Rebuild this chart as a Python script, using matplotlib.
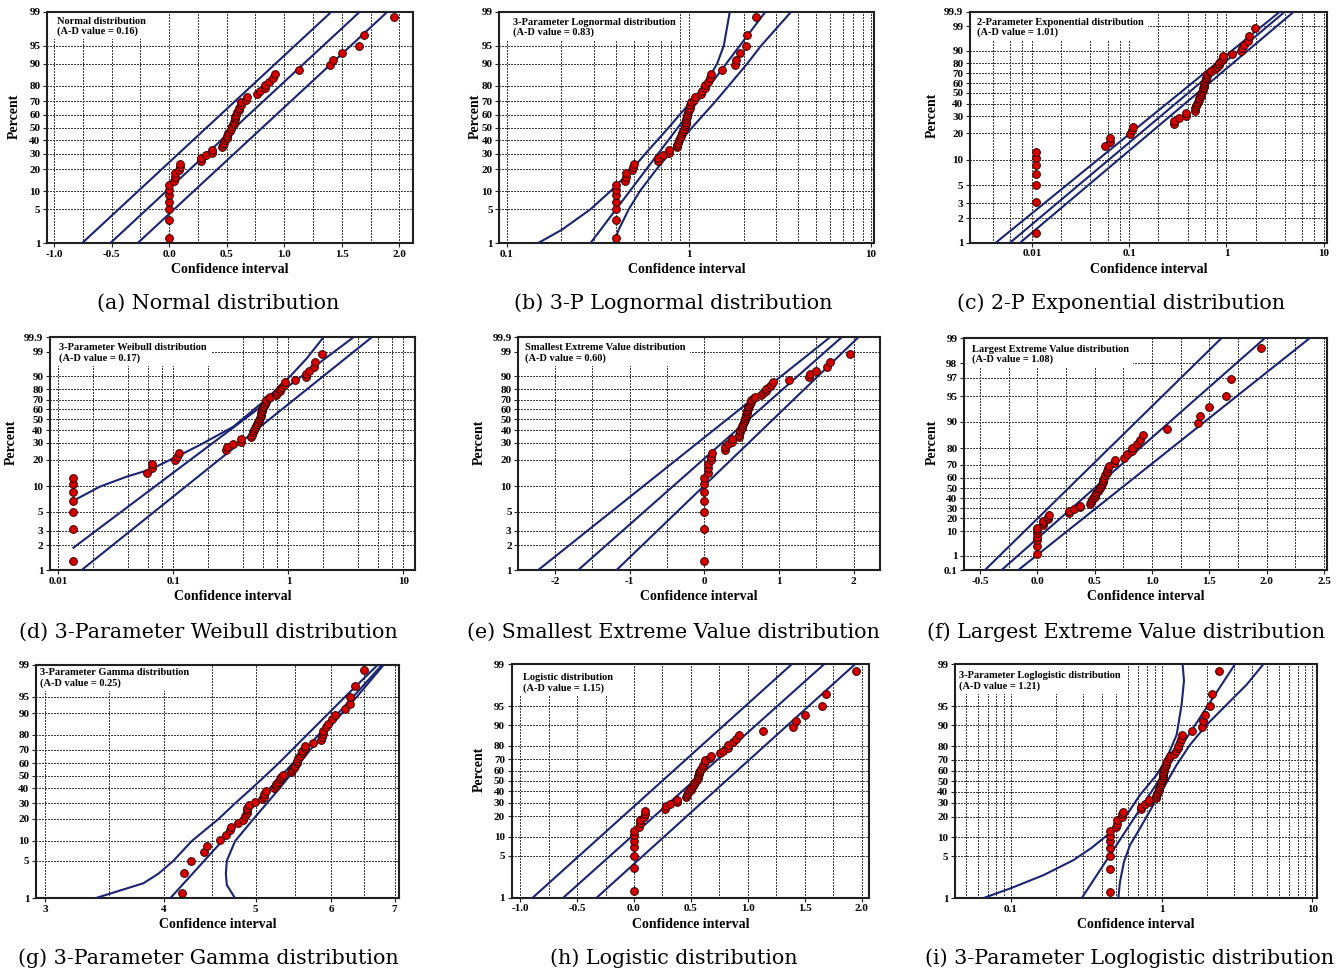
import math
import numpy as np
import matplotlib
matplotlib.use("Agg")
import matplotlib.pyplot as plt
from matplotlib.ticker import FixedLocator, NullLocator, NullFormatter
from matplotlib.patches import Rectangle

plt.rcParams['font.family'] = ['Liberation Serif', 'DejaVu Serif']
plt.rcParams['font.weight'] = 'bold'

# ---------------------------------------------------------------- data
# plotting positions (percent) of the 54 ordered observations
PCT = [1.3, 3.1, 5.0, 6.8, 8.6, 10.5, 12.3, 14.2, 16.0, 17.8, 19.7, 21.5, 23.3,
       25.2, 27.0, 28.9, 30.7, 32.5, 34.4, 36.2, 38.1, 39.9, 41.7, 43.6, 45.4,
       47.2, 49.1, 50.9, 52.8, 54.6, 56.4, 58.3, 60.1, 61.9, 63.8, 65.6, 67.5,
       69.3, 71.1, 73.0, 74.8, 76.7, 78.5, 80.3, 82.2, 84.0, 85.8, 87.7, 89.5,
       91.4, 93.2, 95.0, 96.9, 98.7]
# ordered observations (confidence interval values)
BASE_X = [0, 0, 0, 0, 0, 0, 0, 0.046, 0.052, 0.052, 0.09, 0.095, 0.098,
          0.275, 0.277, 0.318, 0.376, 0.376, 0.46, 0.465, 0.477, 0.485, 0.50,
          0.505, 0.515, 0.53, 0.54, 0.55, 0.56, 0.565, 0.57, 0.573, 0.58, 0.59,
          0.605, 0.61, 0.62, 0.625, 0.67, 0.675, 0.76, 0.785, 0.83, 0.83, 0.87,
          0.90, 0.92, 1.13, 1.40, 1.42, 1.50, 1.65, 1.69, 1.95]
# x values shown in the 3-parameter gamma plot
GAMMA_X = [4.18, 4.20, 4.27, 4.41, 4.44, 4.59, 4.65, 4.70, 4.71, 4.79, 4.85,
           4.87, 4.89, 4.89, 4.89, 4.92, 4.99, 5.07, 5.10, 5.10, 5.12, 5.23,
           5.25, 5.25, 5.28, 5.30, 5.32, 5.34, 5.44, 5.46, 5.48, 5.50, 5.52,
           5.52, 5.54, 5.57, 5.59, 5.59, 5.63, 5.63, 5.74, 5.85, 5.87, 5.88,
           5.89, 5.93, 5.96, 6.01, 6.06, 6.20, 6.29, 6.29, 6.36, 6.50]
# threshold shifts of the 3-parameter / 2-parameter fits
LOGNORM_SHIFT = 0.40
EXPO_SHIFT = 0.011
WEIB_SHIFT = 0.0133
LOGLOG_SHIFT = 0.454

DIST_NAMES = ["Normal distribution", "3-Parameter Lognormal distribution",
              "2-Parameter Exponential distribution",
              "3-Parameter Weibull distribution",
              "Smallest Extreme Value distribution",
              "Largest Extreme Value distribution",
              "3-Parameter Gamma distribution", "Logistic distribution",
              "3-Parameter Loglogistic distribution"]
AD_VALUES = [0.16, 0.83, 1.01, 0.17, 0.60, 1.08, 0.25, 1.15, 1.21]
CAPTIONS = ["(a) Normal distribution", "(b) 3-P Lognormal distribution",
            "(c) 2-P Exponential distribution",
            "(d) 3-Parameter Weibull distribution",
            "(e) Smallest Extreme Value distribution",
            "(f) Largest Extreme Value distribution",
            "(g) 3-Parameter Gamma distribution", "(h) Logistic distribution",
            "(i) 3-Parameter Loglogistic distribution"]

# fitted lines and confidence bands: (percent, x) pairs
NORM_P = [1, 99]
NORM_FIT = [-0.512, 1.656]
NORM_UP = [-0.757, 1.410]
NORM_LO = [-0.275, 1.896]

LOGN_FIT_P = [1, 99]
LOGN_FIT = [0.288, 2.638]
LOGN_BAND_P = [1, 2, 5, 10, 20, 30, 50, 70, 80, 90, 95, 99]
LOGN_UP = [0.148, 0.201, 0.288, 0.371, 0.488, 0.578, 0.776, 1.030, 1.219,
           1.431, 1.557, 1.680]
LOGN_LO = [0.387, 0.412, 0.468, 0.538, 0.664, 0.783, 1.043, 1.401, 1.659,
           2.092, 2.497, 3.650]

EXPO_P = [1, 99.9]
EXPO_FIT = [0.00599, 3.98]
EXPO_UP = [0.00427, 3.53]
EXPO_LO = [0.00759, 4.92]

WEIB_FIT_P = [1.83, 99.9]
WEIB_FIT = [0.01332, 3.674]
WEIB_UP_P = [6.62, 9.91, 12.9, 15.6, 22.4, 28.6, 43.0, 67.9, 87.6, 97.8, 99.9]
WEIB_UP = [0.01306, 0.0230, 0.0393, 0.0635, 0.1143, 0.1706, 0.3325, 0.6063,
           0.967, 1.444, 2.016]
WEIB_LO_P = [1, 99.9]
WEIB_LO = [0.01596, 5.30]

SEV_P = [1, 99.9]
SEV_FIT = [-1.688, 1.839]
SEV_UP = [-2.223, 1.683]
SEV_LO = [-1.174, 2.063]

LEV_P = [0.1, 99]
LEV_FIT = [-0.311, 1.983]
LEV_UP = [-0.456, 1.605]
LEV_LO = [-0.165, 2.374]

GAM_FIT_P = [1, 99]
GAM_FIT = [4.063, 6.788]
GAM_UP_P = [1, 2, 3, 5, 10, 20, 30, 40, 50, 60, 70, 80, 90, 95, 99]
GAM_UP = [3.387, 3.808, 3.949, 4.096, 4.282, 4.568, 4.756, 4.952, 5.115,
          5.283, 5.457, 5.659, 5.964, 6.210, 6.717]
GAM_LO_P = [1, 1.85, 3, 5, 10, 20, 30, 40, 50, 60, 70, 80, 90, 95, 99]
GAM_LO = [4.756, 4.661, 4.650, 4.661, 4.756, 4.972, 5.136, 5.296, 5.426,
          5.559, 5.705, 5.883, 6.160, 6.389, 6.815]

LOGI_P = [1, 99]
LOGI_FIT = [-0.621, 1.669]
LOGI_UP = [-0.890, 1.385]
LOGI_LO = [-0.328, 1.941]

LLOG_FIT_P = [1, 99]
LLOG_FIT = [0.2943, 3.067]
LLOG_UP_P = [1, 1.46, 2.44, 4.32, 6.83, 12.8, 21.0, 36.9, 56.2, 71.2, 86.1,
             95.3, 98.1, 99]
LLOG_UP = [0.0649, 0.0985, 0.1639, 0.2593, 0.3430, 0.4777, 0.5858, 0.7182,
           0.9264, 1.079, 1.258, 1.357, 1.407, 1.379]
LLOG_LO_P = [1, 1.89, 4.05, 7.53, 13.6, 28.3, 43.2, 65.6, 80.7, 90.2, 95.3,
             97.8, 99]
LLOG_LO = [0.5157, 0.5292, 0.5623, 0.6164, 0.7182, 0.8805, 1.026, 1.258,
           1.542, 1.990, 2.701, 3.666, 4.730]

# y tick sets
TICKS_STD = [1, 5, 10, 20, 30, 40, 50, 60, 70, 80, 90, 95, 99]
TICKS_SEV = [1, 2, 3, 5, 10, 20, 30, 40, 50, 60, 70, 80, 90, 99, 99.9]
TICKS_LEV = [0.1, 1, 10, 20, 30, 40, 50, 60, 70, 80, 90, 95, 97, 98, 99]
# gamma probability scale: relative heights of the percent ticks
GAMMA_SCALE_POS = [0, 113, 172, 238, 285, 330, 367, 405, 445, 490, 555, 605, 700]

# ---------------------------------------------------------------- scales
_A = [-3.969683028665376e+01, 2.209460984245205e+02, -2.759285104469687e+02,
      1.383577518672690e+02, -3.066479806614716e+01, 2.506628277459239e+00]
_B = [-5.447609879822406e+01, 1.615858368580409e+02, -1.556989798598866e+02,
      6.680131188771972e+01, -1.328068155288572e+01]
_C = [-7.784894002430293e-03, -3.223964580411365e-01, -2.400758277161838e+00,
      -2.549732539343734e+00, 4.374664141464968e+00, 2.938163982698783e+00]
_D = [7.784695709041462e-03, 3.224671290700398e-01, 2.445134137142996e+00,
      3.754408661907416e+00]


def _q(p):
    return np.clip(np.asarray(p, dtype=float) / 100.0, 1e-12, 1 - 1e-12)


def norm_ppf(q):
    q = np.clip(np.asarray(q, dtype=float), 1e-12, 1 - 1e-12)
    out = np.zeros_like(q)
    plow = 0.02425
    lo = q < plow
    hi = q > 1 - plow
    mid = ~(lo | hi)
    if np.any(lo):
        r = np.sqrt(-2 * np.log(q[lo]))
        out[lo] = (((((_C[0]*r+_C[1])*r+_C[2])*r+_C[3])*r+_C[4])*r+_C[5]) / \
                  ((((_D[0]*r+_D[1])*r+_D[2])*r+_D[3])*r+1)
    if np.any(hi):
        r = np.sqrt(-2 * np.log(1 - q[hi]))
        out[hi] = -(((((_C[0]*r+_C[1])*r+_C[2])*r+_C[3])*r+_C[4])*r+_C[5]) / \
                   ((((_D[0]*r+_D[1])*r+_D[2])*r+_D[3])*r+1)
    if np.any(mid):
        s = q[mid] - 0.5
        r = s * s
        out[mid] = (((((_A[0]*r+_A[1])*r+_A[2])*r+_A[3])*r+_A[4])*r+_A[5])*s / \
                   (((((_B[0]*r+_B[1])*r+_B[2])*r+_B[3])*r+_B[4])*r+1)
    return out


_erf = np.vectorize(math.erf, otypes=[float])


def norm_cdf(z):
    return 0.5 * (1 + _erf(np.asarray(z, dtype=float) / math.sqrt(2)))


def probit_f(p):
    return norm_ppf(_q(p))


def probit_i(z):
    return 100 * norm_cdf(z)


def sev_f(p):
    q = _q(p)
    return np.log(-np.log1p(-q))


def sev_i(w):
    with np.errstate(over='ignore'):
        return 100 * (1 - np.exp(-np.exp(np.asarray(w, dtype=float))))


def lev_f(p):
    q = _q(p)
    return -np.log(-np.log(q))


def lev_i(v):
    with np.errstate(over='ignore'):
        return 100 * np.exp(-np.exp(-np.asarray(v, dtype=float)))


def logit_f(p):
    q = _q(p)
    return np.log(q / (1 - q))


def logit_i(v):
    with np.errstate(over='ignore'):
        return 100 / (1 + np.exp(-np.asarray(v, dtype=float)))


_GZ = probit_f(np.array(TICKS_STD, dtype=float))
_GP = np.array(GAMMA_SCALE_POS, dtype=float)


def _interp_ext(x, xp, fp):
    x = np.asarray(x, dtype=float)
    y = np.interp(x, xp, fp)
    s0 = (fp[1] - fp[0]) / (xp[1] - xp[0])
    s1 = (fp[-1] - fp[-2]) / (xp[-1] - xp[-2])
    y = np.where(x < xp[0], fp[0] + (x - xp[0]) * s0, y)
    y = np.where(x > xp[-1], fp[-1] + (x - xp[-1]) * s1, y)
    return y


def gamma_f(p):
    return _interp_ext(probit_f(p), _GZ, _GP)


def gamma_i(v):
    return probit_i(_interp_ext(v, _GP, _GZ))


# ---------------------------------------------------------------- figure
W, H = 1342, 975
fig = plt.figure(figsize=(W / 100, H / 100), dpi=100)

NAVY = '#1b2470'
RED = '#d40000'
GRID_KW = dict(color='#3c3c3c', linestyle=(0, (2, 2)), linewidth=0.72,
               antialiased=False)


def make_axes(l, t, r, b):
    return fig.add_axes([l / W, 1 - b / H, (r - l) / W, (b - t) / H])


def decorate(ax, yfun, yticks, ylim, xlog, xlim, xticks, xlabels, xminor,
             ylab_x, name, ad, text_off):
    ax.set_yscale('function', functions=yfun)
    ax.set_ylim(*ylim)
    ax.yaxis.set_major_locator(FixedLocator(yticks))
    ax.set_yticklabels([f"{v:g}" for v in yticks])
    ax.yaxis.set_minor_locator(NullLocator())
    if xlog:
        ax.set_xscale('log')
    ax.set_xlim(*xlim)
    ax.set_xticks(xticks)
    ax.set_xticklabels(xlabels)
    ax.xaxis.set_minor_locator(FixedLocator(xminor))
    ax.xaxis.set_minor_formatter(NullFormatter())
    ax.set_axisbelow(True)
    ax.grid(True, which='major', axis='both', **GRID_KW)
    ax.grid(True, which='minor', axis='x', **GRID_KW)
    ax.tick_params(which='major', labelsize=8, length=3, width=0.8,
                   direction='out', pad=1.8, color='#222222')
    ax.tick_params(which='minor', length=0)
    for sp in ax.spines.values():
        sp.set_linewidth(1.5)
        sp.set_color('#202020')
    bbox = ax.get_position()
    hpx = bbox.height * H
    wpx = bbox.width * W
    ax.set_xlabel('Confidence interval', fontsize=10, fontweight='bold',
                  va='center')
    ax.xaxis.set_label_coords(0.5, -26.5 / hpx)
    if ylab_x is not None:
        ax.set_ylabel('Percent', fontsize=10, fontweight='bold', va='center')
        ax.yaxis.set_label_coords(ylab_x / wpx, 0.55)
    txt = ax.text(text_off[0] / wpx, 1 - text_off[1] / hpx,
                  f"{name}\n(A-D value = {ad:.2f})", transform=ax.transAxes,
                  ha='left', va='top', fontsize=7.5, fontweight='bold',
                  linespacing=1.15, zorder=5)
    return txt


def pts(ax, x, p):
    ax.plot(x, p, 'o', ms=5.6, mfc=RED, mec='#3c0000', mew=0.7, zorder=4)


def line(ax, x, p):
    ax.plot(x, p, color=NAVY, lw=1.5, zorder=3, solid_capstyle='butt')


def log_minor(decades, mults):
    return [m * 10.0 ** e for e in decades for m in mults]


base = np.array(BASE_X)
texts = []

# (a) normal
ax = make_axes(47, 11.7, 413.3, 243.3)
t = decorate(ax, (probit_f, probit_i), TICKS_STD, (1, 99), False,
             (-1.06, 2.12), [-1, -0.5, 0, 0.5, 1, 1.5, 2],
             ['-1.0', '-0.5', '0.0', '0.5', '1.0', '1.5', '2.0'],
             list(np.arange(-1.0, 2.01, 0.25)), -33, DIST_NAMES[0],
             AD_VALUES[0], (10, 5))
for xs in (NORM_FIT, NORM_UP, NORM_LO):
    line(ax, xs, NORM_P)
pts(ax, base, PCT)
texts.append((ax, t))

# (b) 3-parameter lognormal
ax = make_axes(499.3, 11.7, 874, 243.3)
t = decorate(ax, (probit_f, probit_i), TICKS_STD, (1, 99), True,
             (0.0911, 10.4), [0.1, 1, 10], ['0.1', '1', '10'],
             log_minor([-1, 0], range(2, 10)), -24, DIST_NAMES[1],
             AD_VALUES[1], (14, 6))
line(ax, LOGN_FIT, LOGN_FIT_P)
line(ax, LOGN_UP, LOGN_BAND_P)
line(ax, LOGN_LO, LOGN_BAND_P)
pts(ax, base + LOGNORM_SHIFT, PCT)
texts.append((ax, t))

# (c) 2-parameter exponential
ax = make_axes(970, 11.7, 1326.7, 242.7)
t = decorate(ax, (sev_f, sev_i), TICKS_SEV, (1, 99.9), True,
             (0.00232, 10.7), [0.01, 0.1, 1, 10], ['0.01', '0.1', '1', '10'],
             [0.004, 0.006, 0.008] + log_minor([-2, -1, 0], (2, 4, 6, 8)),
             -38, DIST_NAMES[2], AD_VALUES[2], (7.3, 6))
for xs in (EXPO_FIT, EXPO_UP, EXPO_LO):
    line(ax, xs, EXPO_P)
pts(ax, base + EXPO_SHIFT, PCT)
texts.append((ax, t))

# (d) 3-parameter Weibull
ax = make_axes(50, 337.3, 415, 570)
t = decorate(ax, (sev_f, sev_i), TICKS_SEV, (1, 99.9), True,
             (0.00847, 12.6), [0.01, 0.1, 1, 10], ['0.01', '0.1', '1', '10'],
             log_minor([-2, -1, 0], (2, 4, 6, 8)), -39, DIST_NAMES[3],
             AD_VALUES[3], (9.3, 5.5))
line(ax, WEIB_FIT, WEIB_FIT_P)
line(ax, WEIB_UP, WEIB_UP_P)
line(ax, WEIB_LO, WEIB_LO_P)
pts(ax, base + WEIB_SHIFT, PCT)
texts.append((ax, t))

# (e) smallest extreme value
ax = make_axes(518.3, 337.3, 880, 570)
t = decorate(ax, (sev_f, sev_i), TICKS_SEV, (1, 99.9), False,
             (-2.49, 2.353), [-2, -1, 0, 1, 2], ['-2', '-1', '0', '1', '2'],
             list(np.arange(-2.5, 2.4, 0.5)), -39, DIST_NAMES[4],
             AD_VALUES[4], (6.7, 5.7))
for xs in (SEV_FIT, SEV_UP, SEV_LO):
    line(ax, xs, SEV_P)
pts(ax, base, PCT)
texts.append((ax, t))

# (f) largest extreme value
ax = make_axes(964, 338.3, 1326.7, 570)
t = decorate(ax, (lev_f, lev_i), TICKS_LEV, (0.1, 99), False,
             (-0.639, 2.524), [-0.5, 0, 0.5, 1, 1.5, 2, 2.5],
             ['-0.5', '0.0', '0.5', '1.0', '1.5', '2.0', '2.5'],
             list(np.arange(-0.5, 2.51, 0.25)), -32, DIST_NAMES[5],
             AD_VALUES[5], (7.7, 6.2))
for xs in (LEV_FIT, LEV_UP, LEV_LO):
    line(ax, xs, LEV_P)
pts(ax, base, PCT)
texts.append((ax, t))

# (g) 3-parameter gamma
ax = make_axes(36, 665, 399.3, 898.3)
t = decorate(ax, (gamma_f, gamma_i), TICKS_STD, (1, 99), True,
             (2.935, 7.08), [3, 4, 5, 6, 7], ['3', '4', '5', '6', '7'],
             [3.5, 4.5, 5.5, 6.5], None, DIST_NAMES[6], AD_VALUES[6], (4, 3))
line(ax, GAM_FIT, GAM_FIT_P)
line(ax, GAM_UP, GAM_UP_P)
line(ax, GAM_LO, GAM_LO_P)
pts(ax, GAMMA_X, PCT)
texts.append((ax, t))

# (h) logistic
ax = make_axes(511.7, 664.3, 869.3, 897.7)
t = decorate(ax, (logit_f, logit_i), TICKS_STD, (1, 99), False,
             (-1.074, 2.067), [-1, -0.5, 0, 0.5, 1, 1.5, 2],
             ['-1.0', '-0.5', '0.0', '0.5', '1.0', '1.5', '2.0'],
             list(np.arange(-1.0, 2.01, 0.25)), -32.4, DIST_NAMES[7],
             AD_VALUES[7], (11, 8.5))
for xs in (LOGI_FIT, LOGI_UP, LOGI_LO):
    line(ax, xs, LOGI_P)
pts(ax, base, PCT)
texts.append((ax, t))

# (i) 3-parameter loglogistic
ax = make_axes(955, 664.3, 1316.7, 898.3)
t = decorate(ax, (logit_f, logit_i), TICKS_STD, (1, 99), True,
             (0.0425, 10.7), [0.1, 1, 10], ['0.1', '1', '10'],
             [0.05, 0.06, 0.07, 0.08, 0.09] + log_minor([-1, 0], range(2, 10)),
             None, DIST_NAMES[8], AD_VALUES[8], (4.3, 7))
line(ax, LLOG_FIT, LLOG_FIT_P)
line(ax, LLOG_UP, LLOG_UP_P)
line(ax, LLOG_LO, LLOG_LO_P)
pts(ax, base + LOGLOG_SHIFT, PCT)
texts.append((ax, t))

# captions
CAP_POS = [(218, 303), (673, 303), (1121.5, 303),
           (208.5, 632), (673.5, 632), (1126.5, 632),
           (208.5, 958), (673.5, 958), (1129.5, 958)]
for (cx, cy), cap in zip(CAP_POS, CAPTIONS):
    fig.text(cx / W, 1 - cy / H, cap, ha='center', va='center',
             fontsize=14.9, fontweight='normal', family='DejaVu Serif')

# white panels behind the inset labels (hide the grid there)
fig.canvas.draw()
renderer = fig.canvas.get_renderer()
for ax, t in texts:
    bb = t.get_window_extent(renderer)
    inv = ax.transAxes.inverted()
    x1, y0 = inv.transform((bb.x1 + 4, bb.y0 - 3))
    ax.add_patch(Rectangle((0, y0), x1, 1 - y0, transform=ax.transAxes,
                           facecolor='white', edgecolor='none', zorder=1.5))

fig.savefig('out.png', dpi=100)
